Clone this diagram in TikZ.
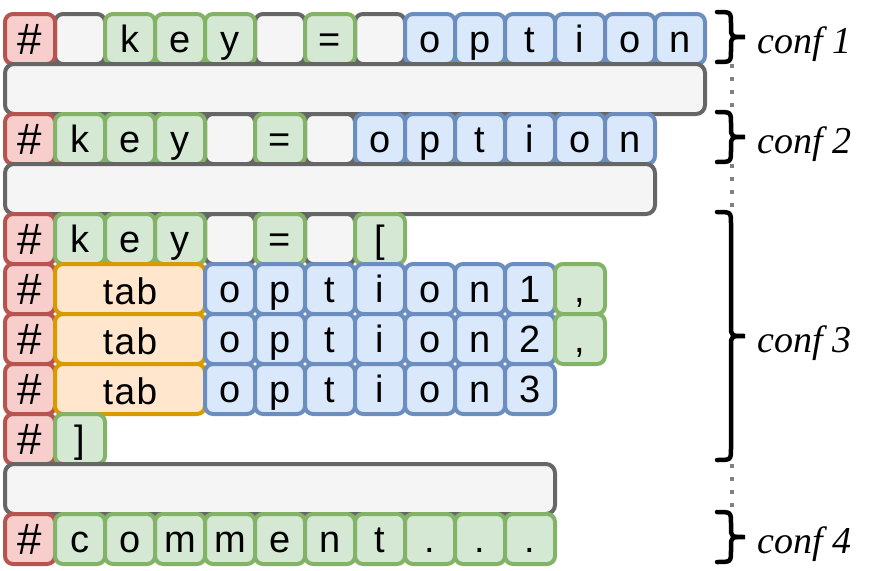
\documentclass[tikz,border=0pt]{standalone}
\usepackage{fontspec}
\setmainfont{Liberation Sans}
\newfontfamily\conffont{Liberation Serif}
\definecolor{redF}{HTML}{F8CECC}\definecolor{redD}{HTML}{B85450}
\definecolor{grnF}{HTML}{D5E8D4}\definecolor{grnD}{HTML}{82B366}
\definecolor{bluF}{HTML}{DAE8FC}\definecolor{bluD}{HTML}{6C8EBF}
\definecolor{orgF}{HTML}{FFE6CC}\definecolor{orgD}{HTML}{D79B00}
\definecolor{gryF}{HTML}{F5F5F5}\definecolor{gryD}{HTML}{666666}
\definecolor{dotC}{HTML}{808080}
\newcommand\cel[4]{\node[#1] (c#3-#2) at ({3+50*#2},{12+50*#3}) {#4};}
\newcommand\graybar[3]{\node[grybar, minimum width=#3pt] (b#2) at ({3+50*#1},{12+50*#2}) {};}
\newcommand\brc[3]{%
  \coordinate (#3t) at (717,#1);
  \coordinate (#3b) at (717,#2);
  \draw[bracestyle] (#3t) .. controls (731,#1) .. (731,{#1+12})
    -- (731,{(#1+#2)/2-10}) .. controls (731,{(#1+#2)/2}) .. (745,{(#1+#2)/2})
    .. controls (731,{(#1+#2)/2}) .. (731,{(#1+#2)/2+10})
    -- (731,{#2-12}) .. controls (731,#2) .. (#3b);}
\begin{document}
\begin{tikzpicture}[x=1pt,y=-1pt,
  cellbase/.style={draw, rounded corners=8pt, line width=4pt, minimum width=50pt,
    minimum height=50pt, inner sep=0pt, anchor=north west, text height=26pt,
    text depth=0pt, font=\fontsize{38}{38}\selectfont},
  rc/.style={cellbase, fill=redF, draw=redD, font=\fontsize{44}{44}\selectfont, text height=30pt},
  gc/.style={cellbase, fill=grnF, draw=grnD},
  bc/.style={cellbase, fill=bluF, draw=bluD},
  ec/.style={cellbase, fill=gryF, draw=gryD},
  tc/.style={cellbase, fill=orgF, draw=orgD, minimum width=150pt, text height=30pt,
    font=\fontsize{37}{37}\selectfont\addfontfeature{LetterSpace=4}},
  grybar/.style={draw=gryD, fill=gryF, rounded corners=9pt, line width=4pt,
    minimum height=50pt, inner sep=0pt, anchor=north west},
  bracestyle/.style={draw=black, line width=4.5pt, line cap=round},
  dotline/.style={draw=dotC, line width=4pt, dash pattern=on 4pt off 9pt},
  conflabel/.style={anchor=base west, inner sep=0pt,
    font=\conffont\itshape\fontsize{38}{38}\selectfont}
]
\useasboundingbox (0,0) rectangle (875,570);
% row 0
\cel{ec}{1}{0}{}\cel{ec}{5}{0}{}\cel{ec}{7}{0}{}
\cel{rc}{0}{0}{\#}
\cel{gc}{2}{0}{k}\cel{gc}{3}{0}{e}\cel{gc}{4}{0}{y}\cel{gc}{6}{0}{=}
\cel{bc}{8}{0}{o}\cel{bc}{9}{0}{p}\cel{bc}{10}{0}{t}\cel{bc}{11}{0}{i}\cel{bc}{12}{0}{o}\cel{bc}{13}{0}{n}
\graybar{0}{1}{700}
% row 2
\cel{ec}{4}{2}{}\cel{ec}{6}{2}{}
\cel{rc}{0}{2}{\#}
\cel{gc}{1}{2}{k}\cel{gc}{2}{2}{e}\cel{gc}{3}{2}{y}\cel{gc}{5}{2}{=}
\cel{bc}{7}{2}{o}\cel{bc}{8}{2}{p}\cel{bc}{9}{2}{t}\cel{bc}{10}{2}{i}\cel{bc}{11}{2}{o}\cel{bc}{12}{2}{n}
\graybar{0}{3}{650}
% row 4
\cel{ec}{4}{4}{}\cel{ec}{6}{4}{}
\cel{rc}{0}{4}{\#}
\cel{gc}{1}{4}{k}\cel{gc}{2}{4}{e}\cel{gc}{3}{4}{y}\cel{gc}{5}{4}{=}\cel{gc}{7}{4}{[}
% rows 5-7
\foreach \r/\d in {5/1,6/2,7/3}{
  \cel{rc}{0}{\r}{\#}
  \cel{tc}{1}{\r}{tab}
  \cel{bc}{4}{\r}{o}\cel{bc}{5}{\r}{p}\cel{bc}{6}{\r}{t}\cel{bc}{7}{\r}{i}\cel{bc}{8}{\r}{o}\cel{bc}{9}{\r}{n}\cel{bc}{10}{\r}{\d}
}
\cel{gc}{11}{5}{,}\cel{gc}{11}{6}{,}
% row 8
\cel{rc}{0}{8}{\#}\cel{gc}{1}{8}{]}
\graybar{0}{9}{550}
% row 10
\cel{rc}{0}{10}{\#}
\cel{gc}{1}{10}{c}\cel{gc}{2}{10}{o}\cel{gc}{3}{10}{m}\cel{gc}{4}{10}{m}\cel{gc}{5}{10}{e}
\cel{gc}{6}{10}{n}\cel{gc}{7}{10}{t}\cel{gc}{8}{10}{.}\cel{gc}{9}{10}{.}\cel{gc}{10}{10}{.}
% dotted links
\coordinate (d1a) at (732,64);\coordinate (d1b) at (732,112);
\coordinate (d2a) at (732,164);\coordinate (d2b) at (732,212);
\coordinate (d3a) at (732,464);\coordinate (d3b) at (732,512);
\draw[dotline] (d1a) -- (d1b);
\draw[dotline] (d2a) -- (d2b);
\draw[dotline] (d3a) -- (d3b);
% braces
\brc{12}{62}{br1}
\brc{112}{162}{br2}
\brc{212}{460}{br3}
\brc{512}{562}{br4}
% labels
\node[conflabel] (l1) at (757,53) {conf 1};
\node[conflabel] (l2) at (757,153) {conf 2};
\node[conflabel] (l3) at (757,352) {conf 3};
\node[conflabel] (l4) at (757,553) {conf 4};
\end{tikzpicture}
\end{document}
